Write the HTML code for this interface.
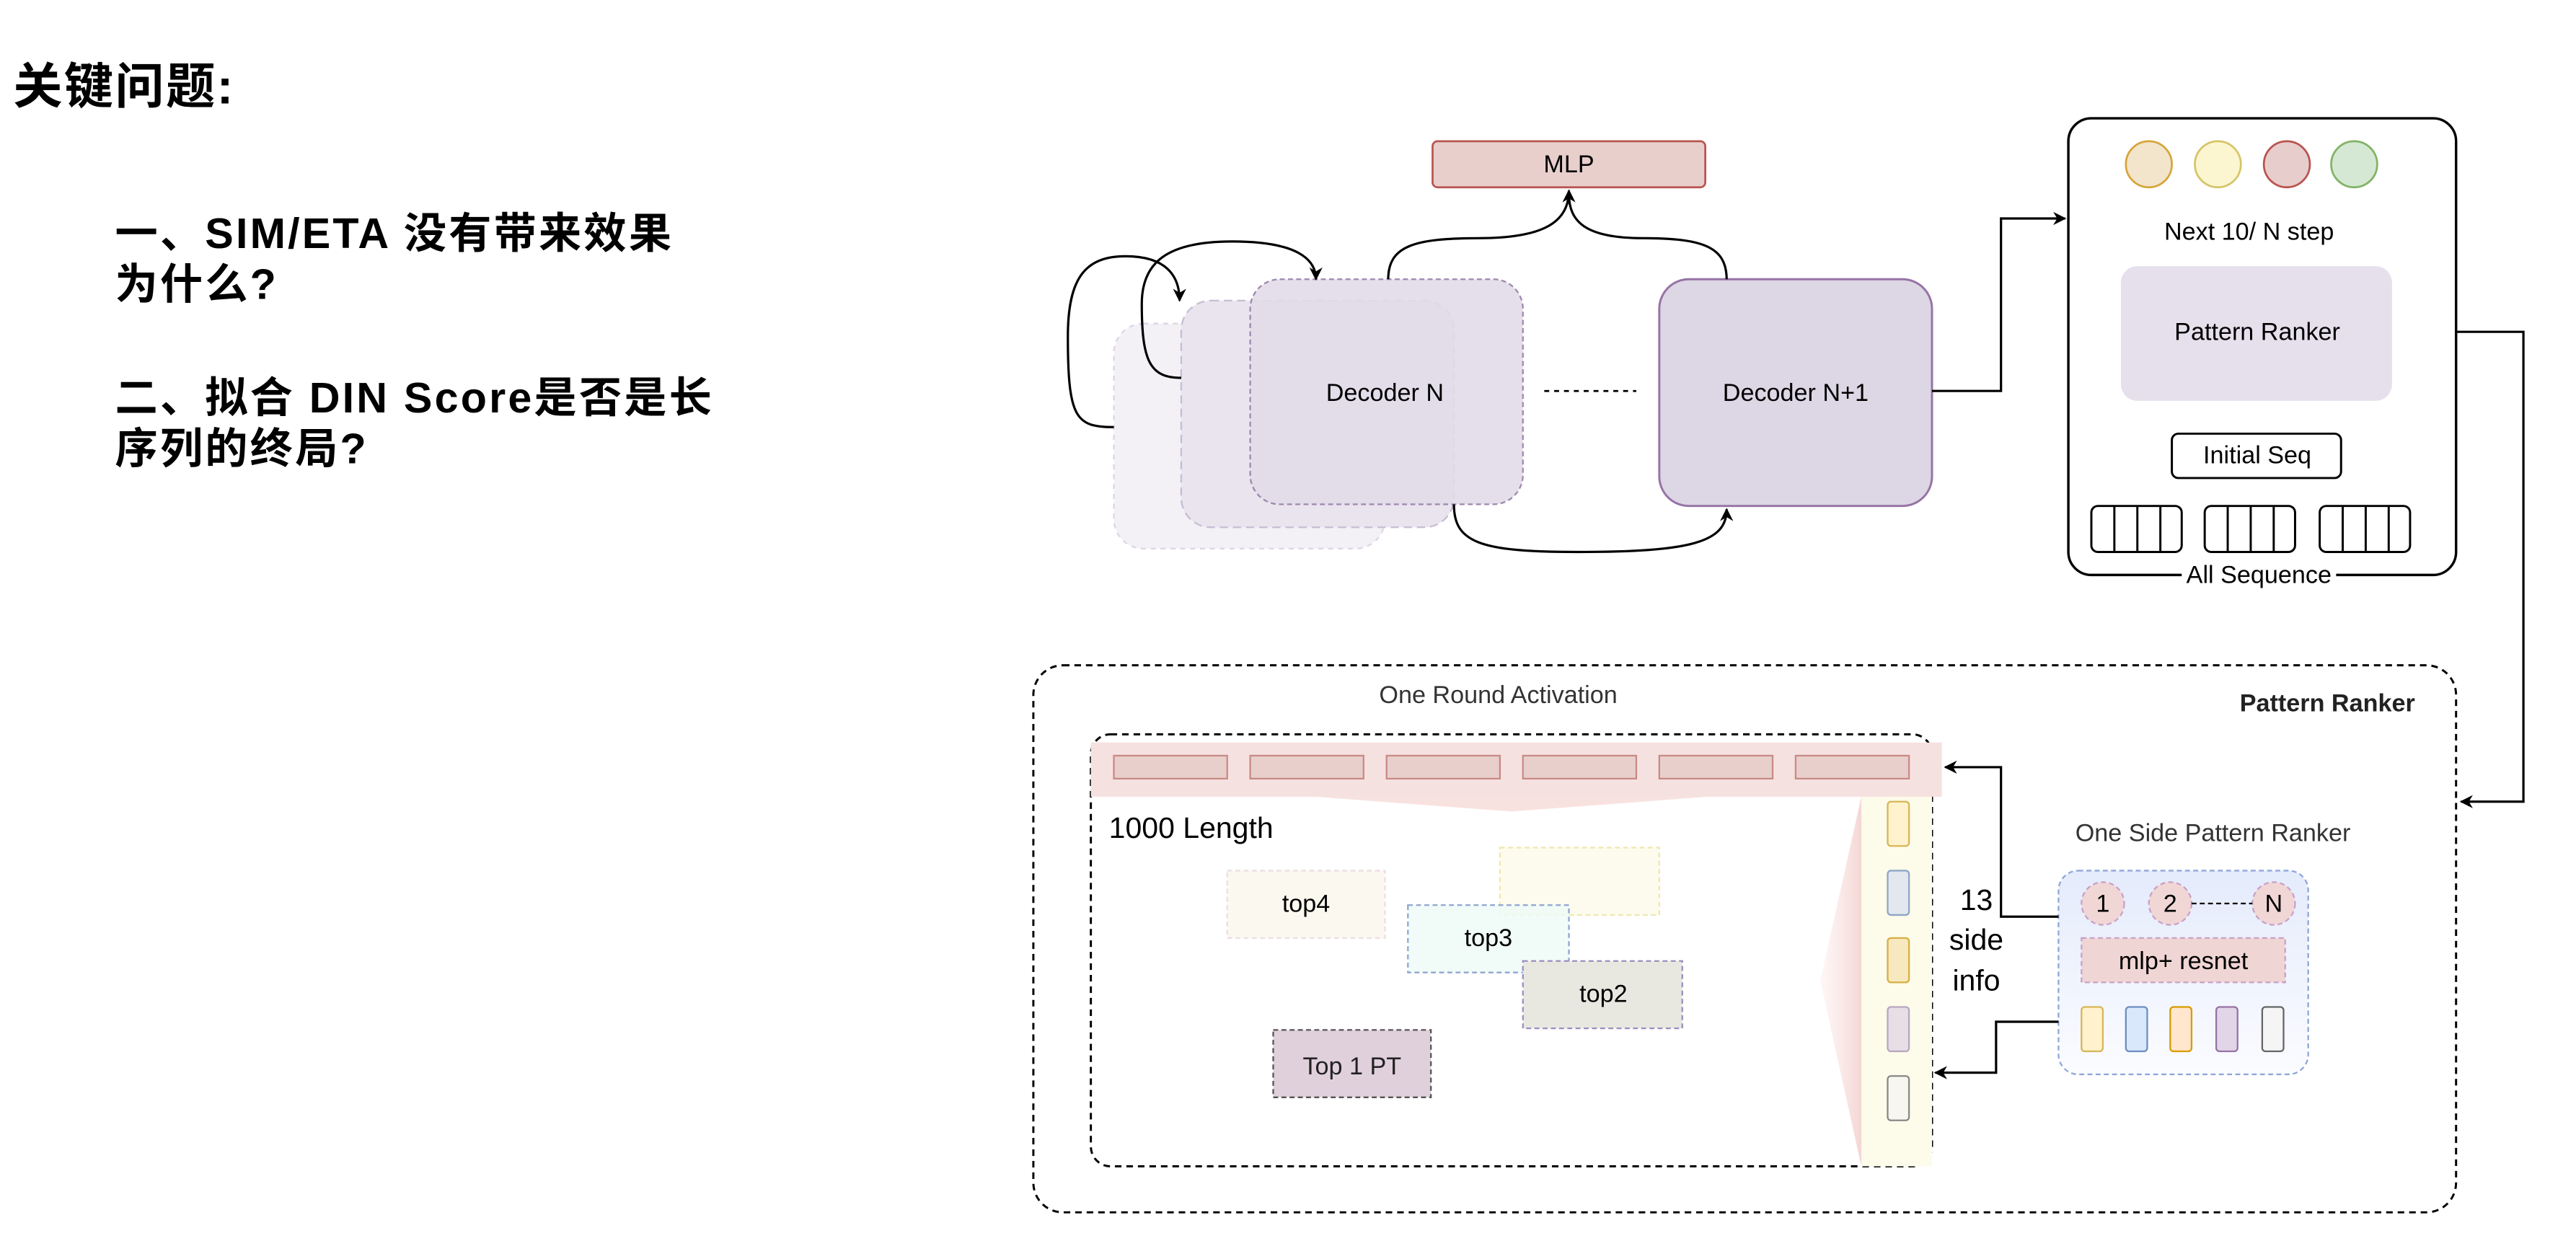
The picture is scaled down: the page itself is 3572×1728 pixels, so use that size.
<!DOCTYPE html>
<html><head><meta charset="utf-8"><style>
html,body{margin:0;padding:0;background:#fff;}
svg{display:block;}
text{font-family:"Liberation Sans","Noto Sans CJK SC",sans-serif;}
</style></head><body>
<svg width="3572" height="1728" viewBox="0 0 1568 758.5" preserveAspectRatio="none" xmlns="http://www.w3.org/2000/svg">
<defs>
<marker id="ar" viewBox="0 0 10 10" refX="9" refY="5" markerWidth="8" markerHeight="8" orient="auto-start-reverse" markerUnits="userSpaceOnUse"><path d="M0,0 L10,5 L0,10 L3,5 z" fill="#000"/></marker>
<linearGradient id="bg1" x1="0" y1="0" x2="0" y2="1"><stop offset="0" stop-color="#e4ebfb"/><stop offset="1" stop-color="#fbfcff"/></linearGradient>
<linearGradient id="tri2" x1="0" y1="0" x2="1" y2="0"><stop offset="0" stop-color="#fbe6e4" stop-opacity="0.3"/><stop offset="1" stop-color="#f3d6d4"/></linearGradient>
</defs>
<rect width="1568" height="758.5" fill="#fff"/>
<g font-weight="bold" fill="#000">
<text x="8" y="63" font-size="30" letter-spacing="1">关键问题:</text>
<text x="70" y="151" font-size="26" letter-spacing="1.4">一、SIM/ETA 没有带来效果</text>
<text x="70" y="182" font-size="26" letter-spacing="1.4">为什么?</text>
<text x="70" y="251" font-size="26" letter-spacing="1.4">二、拟合 DIN Score是否是长</text>
<text x="70" y="282" font-size="26" letter-spacing="1.4">序列的终局?</text>
</g>
<rect x="872" y="86" width="166" height="28" rx="3" fill="#e8cfcc" stroke="#b85450" stroke-width="1.2"/>
<text x="955" y="105" font-size="15" text-anchor="middle">MLP</text>
<rect x="678" y="197" width="165" height="137" rx="18" fill="#f3f1f6" stroke="#ddd5e4" stroke-dasharray="3,3"/>
<rect x="719" y="183" width="166" height="138" rx="18" fill="#e9e4ee" stroke="#c8bcd4" stroke-dasharray="5,3"/>
<rect x="761" y="170" width="166" height="137" rx="18" fill="#e1dbe8" fill-opacity="0.9" stroke="#9e88b0" stroke-dasharray="3,2"/>
<text x="843" y="244" font-size="15" text-anchor="middle">Decoder N</text>
<line x1="940" y1="238" x2="996" y2="238" stroke="#000" stroke-dasharray="3,3" stroke-width="1.2"/>
<rect x="1010" y="170" width="166" height="138" rx="18" fill="#ddd6e4" stroke="#9673a6" stroke-width="1.3"/>
<text x="1093" y="244" font-size="15" text-anchor="middle">Decoder N+1</text>
<g fill="none" stroke="#000" stroke-width="1.4">
<path d="M845,170 C845,150 860,145 900,145 C940,145 955,135 955,116" marker-end="url(#ar)"/>
<path d="M1051,170 C1051,150 1036,145 1000,145 C965,145 955,135 955,118"/>
<path d="M885,307 C885,330 900,336 960,336 C1030,336 1051,330 1051,310" marker-end="url(#ar)"/>
<path d="M678,260 C655,260 650,255 650,205 C650,170 660,156 685,156 C710,156 718,168 718,183" marker-end="url(#ar)"/>
<path d="M719,230 C700,230 695,220 695,185 C695,160 710,147 750,147 C790,147 801,158 801,170" marker-end="url(#ar)"/>
<path d="M1176,238 L1218,238 L1218,133 L1257,133" marker-end="url(#ar)"/>
<path d="M1456,202 L1536,202 L1536,488 L1498,488" marker-end="url(#ar)"/>
</g>
<rect x="1259" y="72" width="236" height="278" rx="14" fill="#fff" stroke="#000" stroke-width="1.5"/>
<circle cx="1308" cy="100" r="14" fill="#f3e5cb" stroke="#d6a63a" stroke-width="1.2"/>
<circle cx="1350" cy="100" r="14" fill="#fbf6cf" stroke="#d6c56a" stroke-width="1.2"/>
<circle cx="1392" cy="100" r="14" fill="#e8cdcd" stroke="#b85450" stroke-width="1.2"/>
<circle cx="1433" cy="100" r="14" fill="#d5e8d4" stroke="#82b366" stroke-width="1.2"/>
<text x="1369" y="146" font-size="15" text-anchor="middle">Next 10/ N step</text>
<rect x="1291" y="162" width="165" height="82" rx="10" fill="#e6e0ec"/>
<text x="1374" y="207" font-size="15" text-anchor="middle">Pattern Ranker</text>
<rect x="1322" y="264" width="103" height="27" rx="4" fill="#fff" stroke="#000" stroke-width="1.3"/>
<text x="1374" y="282" font-size="15" text-anchor="middle">Initial Seq</text>
<g fill="#fff" stroke="#000" stroke-width="1.3">
<rect x="1273" y="308" width="55" height="28" rx="4"/>
<rect x="1342" y="308" width="55" height="28" rx="4"/>
<rect x="1412" y="308" width="55" height="28" rx="4"/>
<path d="M1287,308v28M1301,308v28M1315,308v28M1356,308v28M1370,308v28M1384,308v28M1426,308v28M1440,308v28M1454,308v28"/>
</g>
<rect x="1328" y="343" width="94" height="14" fill="#fff"/>
<text x="1375" y="355" font-size="15" text-anchor="middle">All Sequence</text>
<rect x="629" y="405" width="866" height="333" rx="18" fill="none" stroke="#000" stroke-width="1.3" stroke-dasharray="4,3"/>
<text x="912" y="428" font-size="15" text-anchor="middle" fill="#333">One Round Activation</text>
<text x="1470" y="433" font-size="15" font-weight="bold" text-anchor="end" fill="#222">Pattern Ranker</text>
<rect x="664" y="447" width="512" height="263" rx="12" fill="#fff" stroke="#000" stroke-width="1.3" stroke-dasharray="4,3"/>
<rect x="1133" y="485" width="43" height="225" fill="#fdfbea"/>
<path d="M1133,485 L1108,597 L1133,710 z" fill="url(#tri2)"/>
<rect x="664" y="452" width="518" height="33" fill="#f5e1e0"/>
<path d="M800,485 L920,494 L1040,485 z" fill="#f8e2e0"/>
<g fill="#e8cfcc" stroke="#c98a85" stroke-width="1">
<rect x="678" y="460" width="69" height="14"/><rect x="761" y="460" width="69" height="14"/><rect x="844" y="460" width="69" height="14"/>
<rect x="927" y="460" width="69" height="14"/><rect x="1010" y="460" width="69" height="14"/><rect x="1093" y="460" width="69" height="14"/>
</g>
<text x="675" y="510" font-size="18">1000 Length</text>
<rect x="1149" y="488" width="13" height="27" rx="2" fill="#fff2cc" stroke="#d6b656"/>
<rect x="1149" y="530" width="13" height="27" rx="2" fill="#e3e7ee" stroke="#8fa6c8"/>
<rect x="1149" y="571" width="13" height="27" rx="2" fill="#f8e8c0" stroke="#d6b040"/>
<rect x="1149" y="613" width="13" height="27" rx="2" fill="#e6dfe6" stroke="#b8a6c0"/>
<rect x="1149" y="655" width="13" height="27" rx="2" fill="#f7f7f0" stroke="#888"/>
<rect x="747" y="530" width="96" height="41" fill="#fbf8ef" stroke="#ecdde4" stroke-dasharray="3,2"/>
<text x="795" y="555" font-size="15" text-anchor="middle">top4</text>
<rect x="913" y="516" width="97" height="41" fill="#fdfbee" stroke="#efe8b0" stroke-dasharray="3,2"/>
<rect x="857" y="551" width="98" height="41" fill="#eefaf7" fill-opacity="0.85" stroke="#8fa6d0" stroke-dasharray="3,2"/>
<text x="906" y="576" font-size="15" text-anchor="middle">top3</text>
<rect x="927" y="585" width="97" height="41" fill="#e8e8e0" stroke="#9c8cc0" stroke-dasharray="3,2"/>
<text x="976" y="610" font-size="15" text-anchor="middle">top2</text>
<rect x="775" y="627" width="96" height="41" fill="#e0d0dc" stroke="#555" stroke-dasharray="3,2"/>
<text x="823" y="654" font-size="15" text-anchor="middle" fill="#222">Top 1 PT</text>
<g font-size="18" text-anchor="middle"><text x="1203" y="554">13</text><text x="1203" y="578">side</text><text x="1203" y="603">info</text></g>
<text x="1347" y="512" font-size="15" text-anchor="middle" fill="#333">One Side Pattern Ranker</text>
<rect x="1253" y="530" width="152" height="124" rx="12" fill="url(#bg1)" stroke="#8fa6d8" stroke-dasharray="3,2"/>
<g fill="#f0d7d5" stroke="#c9a0c8" stroke-dasharray="3,2">
<circle cx="1280" cy="550" r="13"/><circle cx="1321" cy="550" r="13"/><circle cx="1384" cy="550" r="13"/>
</g>
<line x1="1334" y1="550" x2="1371" y2="550" stroke="#000" stroke-dasharray="3,2"/>
<g font-size="15" text-anchor="middle"><text x="1280" y="555">1</text><text x="1321" y="555">2</text><text x="1384" y="555">N</text></g>
<rect x="1267" y="571" width="124" height="27" fill="#efd5d3" stroke="#c9a0c8" stroke-dasharray="3,2"/>
<text x="1329" y="590" font-size="15" text-anchor="middle">mlp+ resnet</text>
<rect x="1267" y="613" width="13" height="27" rx="2" fill="#fff2cc" stroke="#d6b656"/>
<rect x="1294" y="613" width="13" height="27" rx="2" fill="#dae8fc" stroke="#6c8ebf"/>
<rect x="1321" y="613" width="13" height="27" rx="2" fill="#ffe6cc" stroke="#d79b00"/>
<rect x="1349" y="613" width="13" height="27" rx="2" fill="#e1d5e7" stroke="#9673a6"/>
<rect x="1377" y="613" width="13" height="27" rx="2" fill="#f5f5f5" stroke="#666"/>
<g fill="none" stroke="#000" stroke-width="1.4">
<path d="M1253,558 L1218,558 L1218,467 L1184,467" marker-end="url(#ar)"/>
<path d="M1253,622 L1215,622 L1215,653 L1178,653" marker-end="url(#ar)"/>
</g>
</svg>
</body></html>
